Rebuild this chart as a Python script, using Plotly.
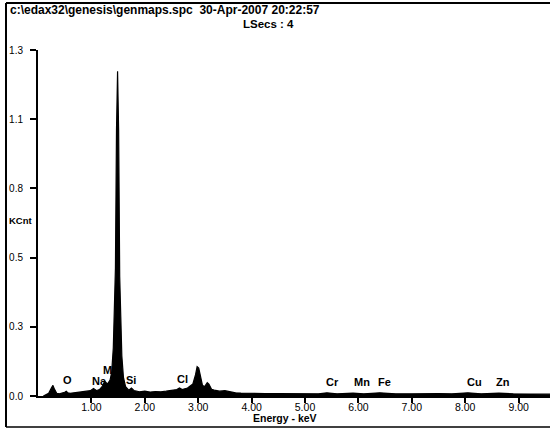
import plotly.graph_objects as go

# EDS spectrum, energy in keV and counts in KCnt
energy = [0.10, 0.15, 0.20, 0.25, 0.28, 0.31, 0.35, 0.40, 0.45, 0.50, 0.53, 0.56, 0.60,
          0.70, 0.80, 0.90, 0.98, 1.04, 1.10, 1.15, 1.20, 1.25, 1.30, 1.35, 1.38, 1.41,
          1.43, 1.45, 1.47, 1.49, 1.51, 1.53, 1.55, 1.57, 1.60, 1.64, 1.70, 1.75, 1.80,
          1.90, 2.00, 2.10, 2.20, 2.30, 2.40, 2.50, 2.60, 2.65, 2.70, 2.80, 2.90, 2.95,
          2.98, 3.01, 3.04, 3.08, 3.12, 3.17, 3.20, 3.25, 3.30, 3.40, 3.50, 3.60, 3.70,
          3.80, 3.90, 4.00, 4.25, 4.50, 4.75, 5.00, 5.25, 5.41, 5.60, 5.90, 6.10, 6.40,
          6.70, 7.00, 7.25, 7.50, 7.75, 8.05, 8.30, 8.63, 8.90, 9.20, 9.60]
counts = [0.000, 0.004, 0.010, 0.030, 0.040, 0.025, 0.010, 0.008, 0.010, 0.014, 0.018, 0.012, 0.010,
          0.012, 0.014, 0.016, 0.020, 0.028, 0.020, 0.024, 0.035, 0.055, 0.045, 0.060, 0.090, 0.180,
          0.300, 0.480, 1.000, 1.220, 1.000, 0.450, 0.300, 0.150, 0.070, 0.035, 0.022, 0.030, 0.020,
          0.016, 0.018, 0.015, 0.017, 0.016, 0.018, 0.020, 0.024, 0.030, 0.024, 0.030, 0.045, 0.080,
          0.110, 0.105, 0.070, 0.040, 0.035, 0.050, 0.045, 0.025, 0.022, 0.018, 0.020, 0.015, 0.012,
          0.011, 0.010, 0.010, 0.009, 0.009, 0.008, 0.008, 0.008, 0.012, 0.008, 0.011, 0.008, 0.012,
          0.008, 0.008, 0.009, 0.009, 0.008, 0.012, 0.008, 0.011, 0.008, 0.008, 0.007]

x_ticks = [1, 2, 3, 4, 5, 6, 7, 8, 9]
x_ticktext = ["1.00", "2.00", "3.00", "4.00", "5.00", "6.00", "7.00", "8.00", "9.00"]
y_ticks = [0.0, 0.26, 0.52, 0.78, 1.04, 1.30]
y_ticktext = ["0.0", "0.3", "0.5", "0.8", "1.1", "1.3"]

# element line labels (name, energy, label height)
elements = ["O", "Na", "M", "Si", "Cl", "Cr", "Mn", "Fe", "Cu", "Zn"]
elem_x = [0.55, 1.15, 1.30, 1.75, 2.70, 5.51, 6.07, 6.49, 8.17, 8.71]
elem_y = [0.060, 0.056, 0.098, 0.060, 0.064, 0.052, 0.052, 0.052, 0.052, 0.052]

FONT = "Liberation Sans"

fig = go.Figure()
fig.add_trace(go.Scatter(
    x=energy, y=counts, mode="lines", fill="tozeroy",
    line=dict(color="black", width=1.2), fillcolor="black",
    hoverinfo="skip", showlegend=False,
))

annotations = []
for name, ex, ey in zip(elements, elem_x, elem_y):
    annotations.append(dict(x=ex, y=ey, xref="x", yref="y", text=f"<b>{name}</b>",
                            showarrow=False, font=dict(family=FONT, size=11, color="black")))
annotations.append(dict(x=1.54, y=1.308, xref="x", yref="y", text="<b>Al</b>",
                        showarrow=False, font=dict(family=FONT, size=11, color="black")))

# plot area spans px 38..550 horizontally, 50..396 vertically
def px(xp):
    return (xp - 38) / 512

def py(yp):
    return (396 - yp) / 346

annotations += [
    dict(x=px(8), y=py(10), xref="paper", yref="paper", xanchor="left", yanchor="middle",
         text="<b>c:\\edax32\\genesis\\genmaps.spc  30-Apr-2007 20:22:57</b>", showarrow=False,
         font=dict(family=FONT, size=12, color="black")),
    dict(x=px(268), y=py(24), xref="paper", yref="paper", xanchor="center", yanchor="middle",
         text="<b>LSecs : 4</b>", showarrow=False, font=dict(family=FONT, size=11.5, color="black")),
    dict(x=px(7), y=py(221), xref="paper", yref="paper", xanchor="left", yanchor="middle",
         text="<b>KCnt</b>", showarrow=False, font=dict(family=FONT, size=9.5, color="black")),
    dict(x=px(285), y=py(418), xref="paper", yref="paper", xanchor="center", yanchor="middle",
         text="<b>Energy - keV</b>", showarrow=False, font=dict(family=FONT, size=10.5, color="black")),
]

shapes = [
    dict(type="line", xref="paper", yref="paper", x0=px(6), x1=px(550), y0=py(3), y1=py(3),
         line=dict(color="black", width=2)),
    dict(type="line", xref="paper", yref="paper", x0=px(6), x1=px(6), y0=py(3), y1=py(427),
         line=dict(color="black", width=2)),
    dict(type="line", xref="paper", yref="paper", x0=px(6), x1=px(550), y0=py(427), y1=py(427),
         line=dict(color="black", width=1.5)),
]

fig.update_layout(
    width=550, height=429,
    margin=dict(l=38, r=0, t=50, b=33),
    paper_bgcolor="white", plot_bgcolor="white",
    annotations=annotations, shapes=shapes,
    xaxis=dict(range=[0, 512 / 53.4], tickvals=x_ticks, ticktext=x_ticktext,
               ticks="outside", ticklen=5, tickwidth=2, tickcolor="black",
               showline=True, linecolor="black", linewidth=2, showgrid=False, zeroline=False,
               tickfont=dict(family=FONT, size=10.5, color="black"), ticklabelstandoff=-5,
               tickprefix="<b>", ticksuffix="</b>", fixedrange=True),
    yaxis=dict(range=[0, 1.3], tickvals=y_ticks, ticktext=y_ticktext,
               ticks="outside", ticklen=6, tickwidth=2, tickcolor="black",
               showline=True, linecolor="black", linewidth=2, showgrid=False, zeroline=False,
               tickfont=dict(family=FONT, size=10, color="black"), ticklabelstandoff=5,
               tickprefix="<b>", ticksuffix="</b>", fixedrange=True),
)

fig.write_html("out.html")
